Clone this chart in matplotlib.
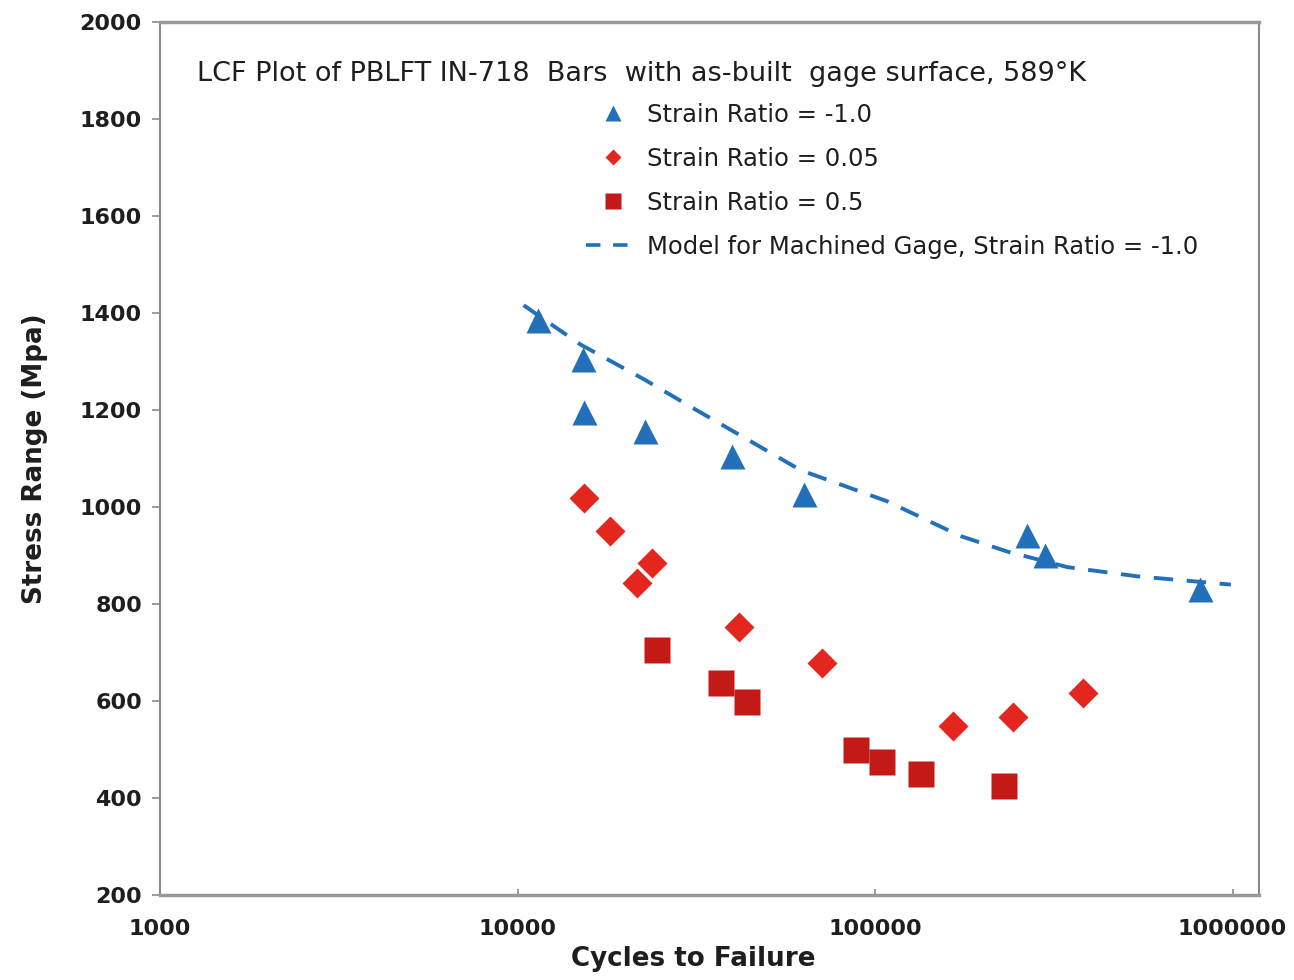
import numpy as np
import matplotlib
matplotlib.use("Agg")
import matplotlib.pyplot as plt
from matplotlib.lines import Line2D

# strain ratio = -1.0 (as-built gage)
cyc_m1 = [11400, 15200, 15300, 22800, 39900, 63200, 267000, 298000, 812000]
str_m1 = [1386, 1306, 1196, 1156, 1106, 1027, 943, 902, 831]

# strain ratio = 0.05
cyc_005 = [15300, 18200, 23800, 21600, 41600, 70900, 165700, 243900, 382900]
str_005 = [1018, 950, 885, 844, 753, 678, 549, 566, 617]

# strain ratio = 0.5
cyc_05 = [24500, 37000, 43900, 88700, 104800, 134200, 229600]
str_05 = [705, 637, 598, 499, 475, 450, 424]

# model for machined gage, strain ratio = -1.0
cyc_model = [10400, 15000, 22500, 31800, 45000, 61900, 108000, 173600, 234700, 345500, 542400, 989700]
str_model = [1416, 1335, 1264, 1199, 1135, 1076, 1012, 940, 908, 876, 857, 840]

blue = '#2270B9'
red = '#E5261F'
dred = '#C41A17'
gray = '#8a8a8a'
txtfont = 'DejaVu Sans'
txtcol = '#1e1e1e'

fig = plt.figure(figsize=(12.94, 9.8), dpi=100)
ax = fig.add_axes([160/1294, 1 - 895/980, 1099/1294, 873/980])

ax.plot(cyc_model, str_model, linestyle=(0, (5, 3.5)), color=blue, lw=2.8, zorder=2)
ax.plot(cyc_m1, str_m1, '^', color=blue, ms=18, mec='none', zorder=3)
ax.plot(cyc_005, str_005, 'D', color=red, ms=15.5, mec='none', zorder=3)
ax.plot(cyc_05, str_05, 's', color=dred, ms=19, mec='none', zorder=3)

ax.set_xscale('log')
ax.set_xlim(1000, 1.186e6)
ax.set_ylim(200, 2000)
ax.set_xticks([1000, 10000, 100000, 1000000])
ax.set_xticklabels(['1000', '10000', '100000', '1000000'])
ax.set_yticks(np.arange(200, 2001, 200))
ax.minorticks_off()

for lab in ax.get_xticklabels() + ax.get_yticklabels():
    lab.set_fontfamily('DejaVu Sans')
    lab.set_fontweight('bold')
    lab.set_fontsize(16)
    lab.set_color(txtcol)

ax.tick_params(axis='y', direction='out', length=6, width=1.2, color=gray, pad=7)
ax.tick_params(axis='x', direction='in', length=4, width=1.2, color=gray, pad=17)

for s in ['left', 'right']:
    ax.spines[s].set_color(gray)
    ax.spines[s].set_linewidth(1.5)
for s in ['top', 'bottom']:
    ax.spines[s].set_color('#999999')
    ax.spines[s].set_linewidth(2.5)

ax.set_xlabel('Cycles to Failure', fontfamily=txtfont, fontweight='bold', fontsize=18.8, color=txtcol)
ax.xaxis.set_label_coords((693 - 160) / 1099, -0.058)
ax.set_ylabel('Stress Range (Mpa)', fontfamily=txtfont, fontweight='bold', fontsize=18.8, color=txtcol)
ax.yaxis.set_label_coords((48 - 160) / 1099, 0.5)

ax.text((197 - 160) / 1099, (895 - 74) / 873,
        'LCF Plot of PBLFT IN-718  Bars  with as-built  gage surface, 589\u00b0K',
        transform=ax.transAxes, fontfamily=txtfont, fontsize=19.5,
        color=txtcol, va='center', ha='left')

handles = [
    Line2D([], [], marker='^', color=blue, ls='none', ms=11, mec='none'),
    Line2D([], [], marker='D', color=red, ls='none', ms=8.5, mec='none'),
    Line2D([], [], marker='s', color=dred, ls='none', ms=11, mec='none'),
    Line2D([], [], color=blue, ls=(0, (4, 3.5)), lw=2.6),
]
labels = ['Strain Ratio = -1.0', 'Strain Ratio = 0.05', 'Strain Ratio = 0.5',
          'Model for Machined Gage, Strain Ratio = -1.0']
leg = ax.legend(handles, labels, loc='upper left',
                bbox_to_anchor=((586 - 160) / 1099, (895 - 103) / 873),
                frameon=False, borderpad=0, borderaxespad=0, handlelength=2.2,
                handletextpad=0.3, labelspacing=0.82,
                prop={'family': txtfont, 'size': 17.5})
for t in leg.get_texts():
    t.set_color(txtcol)

fig.savefig('out.png', dpi=100)
